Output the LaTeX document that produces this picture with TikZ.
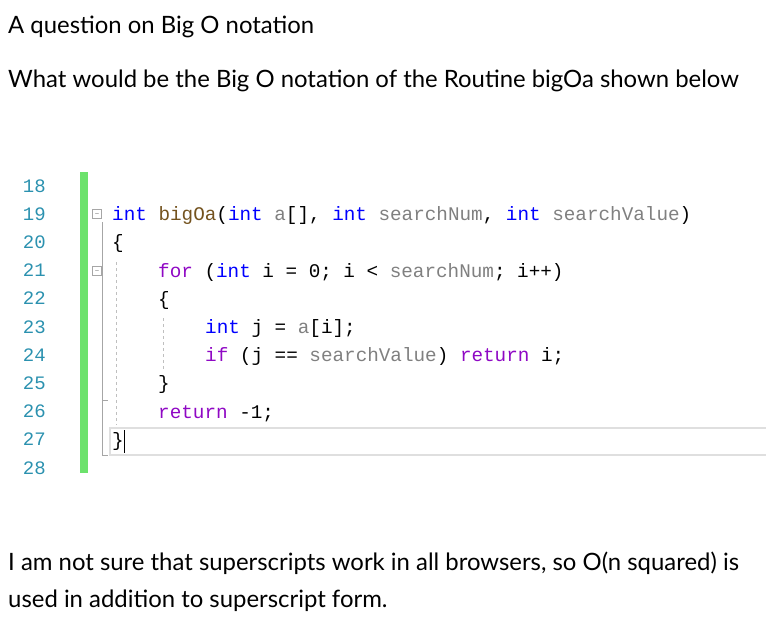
\documentclass[tikz,border=0pt]{standalone}
\usepackage{fontspec}
\setmainfont{Lato}
\newfontfamily\codefont{Liberation Mono}
\definecolor{kw}{RGB}{0,0,255}
\definecolor{fn}{RGB}{116,83,31}
\definecolor{pm}{RGB}{128,128,128}
\definecolor{ct}{RGB}{143,8,196}
\definecolor{ln}{RGB}{43,145,175}
\definecolor{gb}{RGB}{108,226,108}
\newcommand{\K}[1]{\textcolor{kw}{#1}}
\newcommand{\F}[1]{\textcolor{fn}{#1}}
\newcommand{\PM}[1]{\textcolor{pm}{#1}}
\newcommand{\C}[1]{\textcolor{ct}{#1}}
\begin{document}
\begin{tikzpicture}[x=1pt,y=-1pt,
  prose/.style={anchor=base west,inner sep=0,font=\fontsize{23.9}{28}\selectfont},
  lnum/.style={anchor=base east,inner sep=0,text=ln,font=\codefont\fontsize{19}{20}\selectfont},
  code/.style={anchor=base west,inner sep=0,font=\codefont\fontsize{19.3}{20}\selectfont},
  fold/.style={draw=gray!70,fill=white,minimum size=9pt,inner sep=0}]
\useasboundingbox (0,0) rectangle (766,622);
\node[prose] (t1) at (8,33) {A question on Big O notation};
\node[prose] (t2) at (8,87) {What would be the Big O notation of the Routine bigOa shown below};
\node[prose] (t3) at (8,570) {I am not sure that superscripts work in all browsers, so O(n squared) is};
\node[prose] (t4) at (8,607) {used in addition to superscript form.};
% green bar
\fill[gb] (80,172) rectangle (88,473);
% current line highlight
\draw[gray!25,line width=1.2pt] (110,428) rectangle (770,455);
% fold guides
\draw[gray!70] (102,222) -- (102,455) -- (108,455);
\draw[gray!70] (102,400) -- (108,400);
\draw[gray!50,dashed] (116,262) -- (116,425);
\draw[gray!50,dashed] (163,318) -- (163,370);
\node[fold] (f1) at (97,214) {\tiny$-$};
\node[fold] (f2) at (97,271) {\tiny$-$};
\foreach \n [count=\i from 0] in {18,...,28}
  \node[lnum] (l\n) at (46,{192+28.2*\i}) {\n};
\node[code] (c19) at (112,220) {\K{int} \F{bigOa}(\K{int} \PM{a}[], \K{int} \PM{searchNum}, \K{int} \PM{searchValue})};
\node[code] (c20) at (112,248) {\{};
\node[code] (c21) at (158,277) {\C{for} (\K{int} i = 0; i < \PM{searchNum}; i++)};
\node[code] (c22) at (158,305) {\{};
\node[code] (c23) at (205,333) {\K{int} j = \PM{a}[i];};
\node[code] (c24) at (205,361) {\C{if} (j == \PM{searchValue}) \C{return} i;};
\node[code] (c25) at (158,389) {\}};
\node[code] (c26) at (158,418) {\C{return} -1;};
\node[code] (c27) at (112,446) {\}};
\draw[black,line width=0.8pt] (124,430) -- (124,453);
\end{tikzpicture}
\end{document}
